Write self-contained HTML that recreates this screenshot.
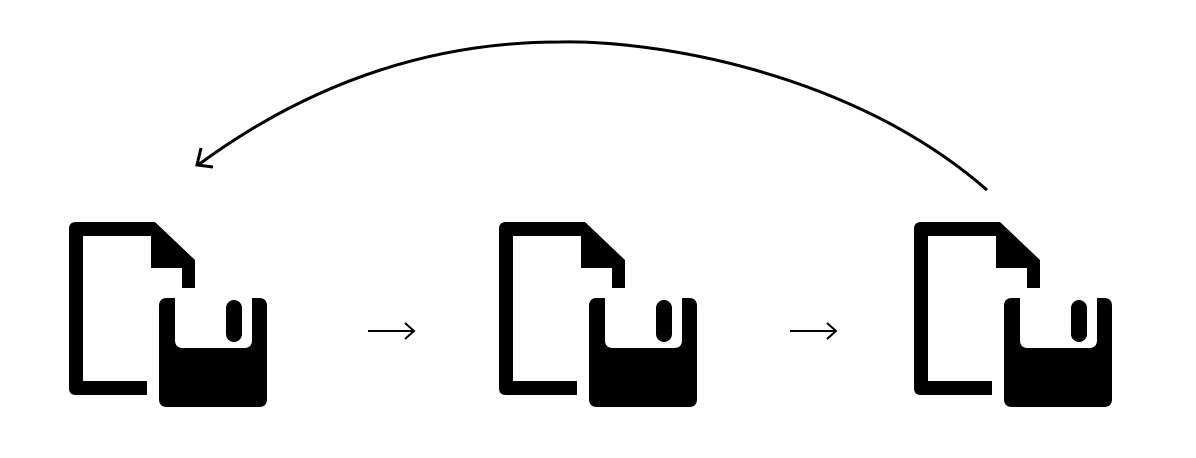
<!DOCTYPE html>
<html><head><style>html,body{margin:0;padding:0;background:#fff;width:1196px;height:458px;overflow:hidden}</style></head>
<body>
<svg width="1196" height="458" viewBox="0 0 1196 458" xmlns="http://www.w3.org/2000/svg">
<defs>
<g id="ic">
<path d="M69,229 Q69,222 76,222 L155,222 L195,260 L195,288 L182,288 L182,268 L151,268 L151,236 L83,236 L83,381 L147,381 L147,395 L76,395 Q69,395 69,388 Z" fill="#000"/>
<path d="M167,298 L175,298 L175,340 Q175,348 183,348 L244,348 Q252,348 252,340 L252,298 L259,298 Q267,298 267,306 L267,399 Q267,407 259,407 L167,407 Q159,407 159,399 L159,306 Q159,298 167,298 Z" fill="#000"/>
<rect x="226" y="300" width="16" height="42" rx="8" fill="#000"/>
</g>
</defs>
<use href="#ic"/>
<use href="#ic" transform="translate(430,0)"/>
<use href="#ic" transform="translate(845,0)"/>
<g stroke="#000" stroke-width="2" fill="none">
<path d="M368,331 L414,331 M405,323 L414,331 L405,339"/>
<path d="M790,331 L836,331 M827,323 L836,331 L827,339"/>
</g>
<path d="M987,190 C850,70 650,40 560,42 C420,42 300,90 198,165" stroke="#000" stroke-width="3" fill="none"/>
<path d="M201,148 L197,165 L213,167" stroke="#000" stroke-width="3" fill="none"/>
</svg>
</body></html>
